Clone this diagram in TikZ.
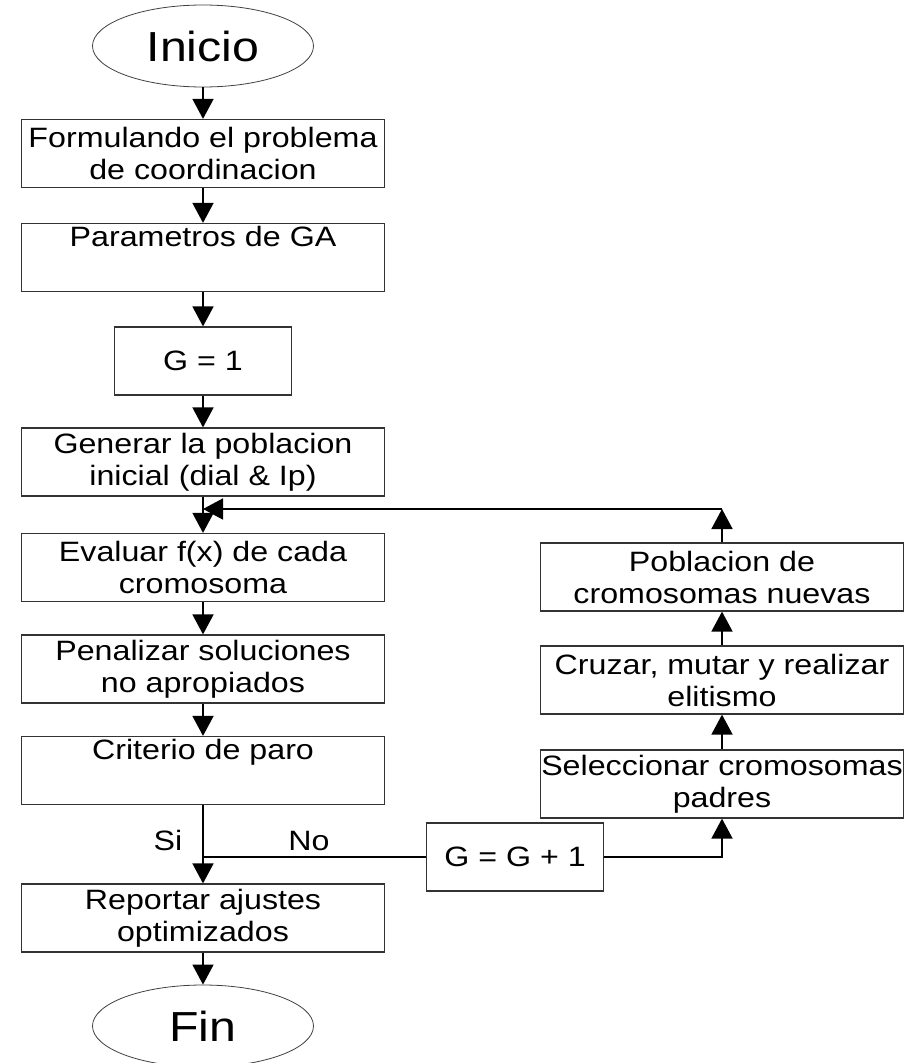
\documentclass[tikz,border=0pt]{standalone}
\usepackage{fontspec}
\setmainfont[FakeStretch=1.15]{Liberation Sans}
\usetikzlibrary{arrows.meta,positioning,shapes}

\begin{document}
\begin{tikzpicture}[x=1pt,y=-1pt,
    every node/.style={font=\fontsize{28}{32}\selectfont},
    box/.style={draw=black!80,line width=1.2pt,minimum width=363pt,minimum height=68pt,inner sep=0pt,align=center},
    smallbox/.style={box,minimum width=177pt},
    term/.style={draw=black!75,ellipse,line width=0.8pt,minimum width=221pt,minimum height=82pt,inner sep=0pt,font=\fontsize{42}{48}\selectfont},
    flow/.style={line width=1.6pt,-{Triangle[length=20pt,width=21pt]}},
    link/.style={line width=1.6pt}]
      \useasboundingbox (0,0) rectangle (905,1063);
      % main column
      \node[term] (inicio) at (203,46) {Inicio};
      \node[box] (formul) at (203,153.5) {Formulando el problema\\de coordinacion};
      \node[box] (param) at (203,257.5) {Parametros de GA\\\strut};
      \node[smallbox] (g1) at (203,361) {G = 1};
      \node[box] (gener) at (203,462) {Generar la poblacion\\inicial (dial \& Ip)};
      \node[box] (evalu) at (203,567.5) {Evaluar f(x) de cada\\cromosoma};
      \node[box] (penal) at (203,669) {Penalizar soluciones\\no apropiados};
      \node[box] (crit) at (203,770.5) {Criterio de paro\\\strut};
      \node[box] (report) at (203,918) {Reportar ajustes\\optimizados};
      \node[term] (fin) at (203,1026) {Fin};
      % right column
      \node[box] (pobla) at (722,577) {Poblacion de\\cromosomas nuevas};
      \node[box] (cruza) at (722,680) {Cruzar, mutar y realizar\\elitismo};
      \node[box] (selec) at (722,784) {Seleccionar cromosomas\\padres};
      \node[smallbox] (gplus) at (515,857) {G = G + 1};
      \coordinate (split) at (203,857);
      \coordinate (loop) at (722,509);
      \draw[flow] (inicio) -- (formul);
      \draw[flow] (formul) -- (param);
      \draw[flow] (param) -- (g1);
      \draw[flow] (g1) -- (gener);
      \draw[flow] (gener) -- (evalu);
      \draw[flow] (evalu) -- (penal);
      \draw[flow] (penal) -- (crit);
      \draw[flow] (crit) -- (report);
      \draw[flow] (report) -- (fin);
      \draw[link] (gplus.west) -- (split);
      \draw[flow] (gplus.east) -| (selec.south);
      \draw[flow] (selec) -- (cruza);
      \draw[flow] (cruza) -- (pobla);
      \draw[flow] (pobla) -- (loop);
      \draw[flow] (loop) -- (loop -| evalu.north);
      \node (si) at (168,840) {Si};
      \node (no) at (309,841) {No};
\end{tikzpicture}
\end{document}
